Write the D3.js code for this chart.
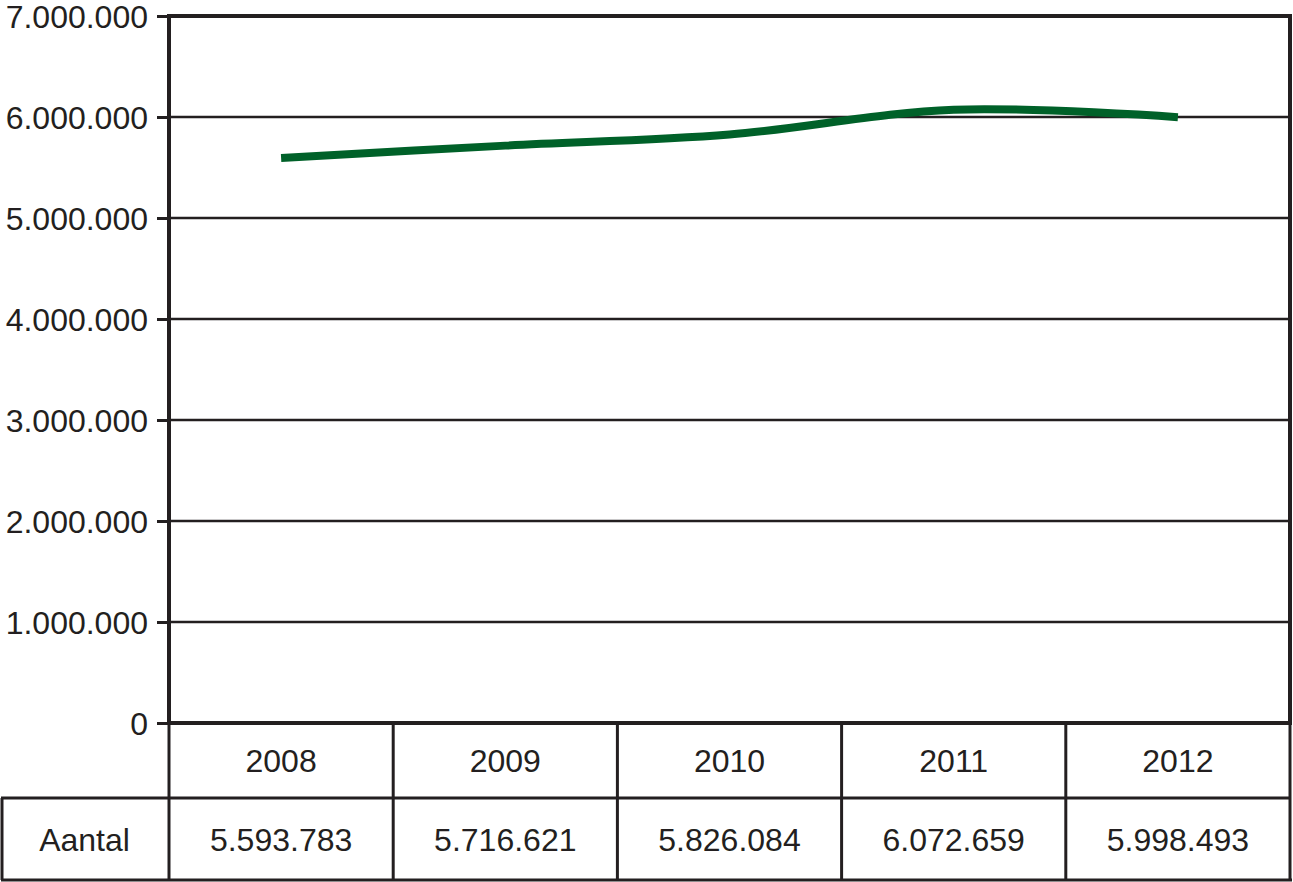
<!DOCTYPE html>
<html>
<head>
<meta charset="utf-8">
<script src="https://cdn.jsdelivr.net/npm/d3@7"></script>
<style>
  body { margin: 0; background: #fff; }
  text { font-family: "Liberation Sans", Arial, sans-serif; fill: #231f20; }
</style>
</head>
<body>
<svg width="1293" height="882"></svg>
<script>
var years = ["2008", "2009", "2010", "2011", "2012"];
var values = [5593783, 5716621, 5826084, 6072659, 5998493];
var yTicks = [0, 1000000, 2000000, 3000000, 4000000, 5000000, 6000000, 7000000];
var rowLabel = "Aantal";

var ink = "#231f20";
var green = "#006129";
var fontSize = "32px";

var svg = d3.select("svg");
var plotLeft = 169, plotRight = 1290, plotTop = 16, plotBottom = 723;
var row1 = 798, row2 = 880;

// Dutch style thousands separator
var fmt = d3.formatLocale({decimal: ",", thousands: ".", grouping: [3], currency: ["€", ""]}).format(",d");

var x = d3.scaleBand().domain(years).range([plotLeft, plotRight]);
var y = d3.scaleLinear().domain([0, 7000000]).range([plotBottom, plotTop]);

// gridlines
svg.append("g").selectAll("line")
    .data(yTicks)
    .enter().append("line")
    .attr("x1", plotLeft).attr("x2", plotRight)
    .attr("y1", function(d) { return y(d); })
    .attr("y2", function(d) { return y(d); })
    .style("stroke", ink)
    .style("stroke-width", 2.5);

// y axis with ticks + labels
var yAxis = d3.axisLeft(y).tickValues(yTicks).tickFormat(fmt).tickSize(12).tickPadding(9);
var ya = svg.append("g").attr("transform", "translate(" + plotLeft + ",0)").call(yAxis);
ya.select(".domain").remove();
ya.selectAll(".tick line").style("stroke", ink).style("stroke-width", 3);
ya.selectAll(".tick text")
    .style("font-size", fontSize)
    .style("fill", ink)
    .attr("font-family", null)
    .attr("dy", "0.36em");

// plot frame
svg.append("rect")
    .attr("x", plotLeft).attr("y", plotTop)
    .attr("width", plotRight - plotLeft).attr("height", plotBottom - plotTop)
    .style("fill", "none")
    .style("stroke", ink)
    .style("stroke-width", 4);

// the line
var line = d3.line()
    .x(function(d, i) { return x(years[i]) + x.bandwidth() / 2; })
    .y(function(d) { return y(d); })
    .curve(d3.curveCatmullRom.alpha(0.5));

svg.append("path")
    .datum(values)
    .attr("d", line)
    .style("fill", "none")
    .style("stroke", green)
    .style("stroke-width", 8);

// table below
var tbl = svg.append("g");
var tStroke = 3;

// year row column borders
years.forEach(function(yr) {
    tbl.append("line")
        .attr("x1", x(yr) + x.bandwidth()).attr("x2", x(yr) + x.bandwidth())
        .attr("y1", plotBottom).attr("y2", row2)
        .style("stroke", ink).style("stroke-width", tStroke);
});
tbl.append("line")
    .attr("x1", plotLeft).attr("x2", plotLeft)
    .attr("y1", plotBottom).attr("y2", row2)
    .style("stroke", ink).style("stroke-width", tStroke);
tbl.append("line")
    .attr("x1", 2).attr("x2", 2)
    .attr("y1", row1).attr("y2", row2)
    .style("stroke", ink).style("stroke-width", tStroke);
tbl.append("line")
    .attr("x1", 1).attr("x2", plotRight)
    .attr("y1", row1).attr("y2", row1)
    .style("stroke", ink).style("stroke-width", tStroke);
tbl.append("line")
    .attr("x1", 1).attr("x2", plotRight + 2)
    .attr("y1", row2).attr("y2", row2)
    .style("stroke", ink).style("stroke-width", tStroke);

tbl.selectAll(".yr")
    .data(years)
    .enter().append("text")
    .attr("class", "yr")
    .attr("x", function(d) { return x(d) + x.bandwidth() / 2; })
    .attr("y", (plotBottom + row1) / 2)
    .attr("dy", "0.36em")
    .attr("text-anchor", "middle")
    .style("font-size", fontSize)
    .text(function(d) { return d; });

tbl.selectAll(".val")
    .data(values)
    .enter().append("text")
    .attr("class", "val")
    .attr("x", function(d, i) { return x(years[i]) + x.bandwidth() / 2; })
    .attr("y", (row1 + row2) / 2)
    .attr("dy", "0.36em")
    .attr("text-anchor", "middle")
    .style("font-size", fontSize)
    .text(function(d) { return fmt(d); });

tbl.append("text")
    .attr("x", plotLeft / 2)
    .attr("y", (row1 + row2) / 2)
    .attr("dy", "0.36em")
    .attr("text-anchor", "middle")
    .style("font-size", fontSize)
    .text(rowLabel);
</script>
</body>
</html>
